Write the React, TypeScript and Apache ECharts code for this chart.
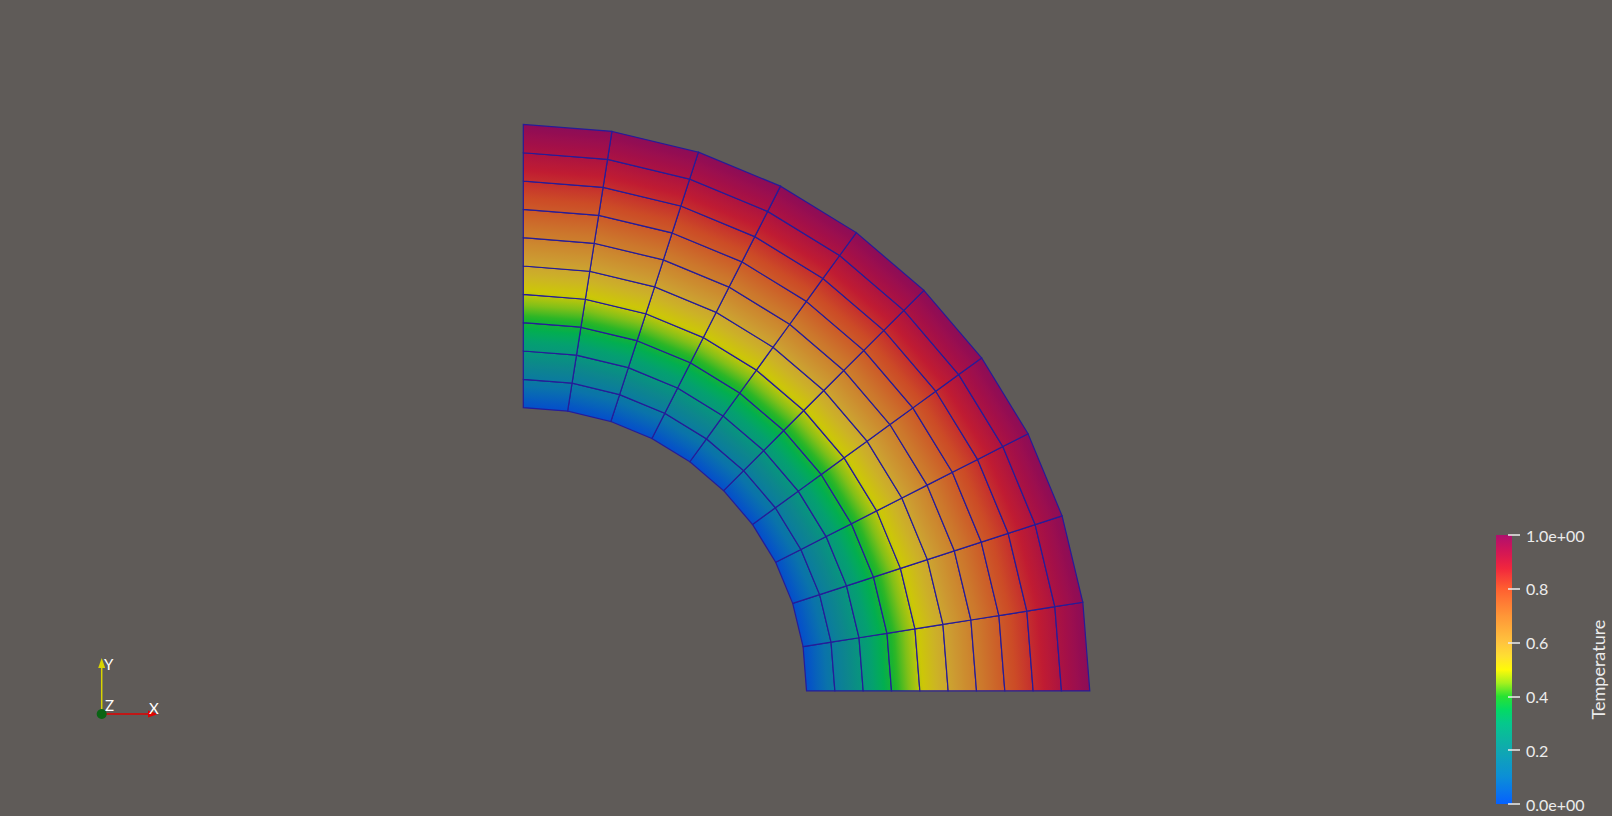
import React, { useEffect, useRef } from "react";
import * as echarts from "echarts";

// Mesh nodes (quarter annulus, 10 x 10 cells)
const NODE_RADII = [1.0, 1.1, 1.2, 1.3, 1.4, 1.5, 1.6, 1.7, 1.8, 1.9, 2.0];
const NODE_ANGLES_DEG = [0, 9, 18, 27, 36, 45, 54, 63, 72, 81, 90];
// Temperature at each radial node
const NODE_TEMPERATURE = [0, 0.14, 0.26, 0.38, 0.49, 0.58, 0.68, 0.77, 0.85, 0.93, 1.0];

// Colour bar
const COLORBAR_TICKS = [0, 0.2, 0.4, 0.6, 0.8, 1.0];
const COLORBAR_TITLE = "Temperature";

// Colour map control points
const CMAP_POSITIONS = [0, 0.1, 0.2, 0.3, 0.35, 0.4, 0.45, 0.5, 0.55, 0.6, 0.7, 0.8, 0.88, 0.95, 1];
const CMAP_COLORS = [
  [5, 97, 255],
  [12, 142, 215],
  [16, 168, 176],
  [5, 200, 140],
  [3, 218, 100],
  [40, 226, 50],
  [165, 240, 30],
  [255, 250, 8],
  [255, 222, 50],
  [255, 196, 62],
  [255, 150, 55],
  [255, 95, 48],
  [240, 35, 62],
  [205, 20, 90],
  [175, 15, 110],
];

const SHADE = 0.8;
const BG = "#5f5b58";
const MESH_LINE = "#261c98";
const TEXT = "#ececec";
const FONT = "Lato, 'Noto Sans', sans-serif";

function cmap(t: number): number[] {
  const v = Math.max(0, Math.min(1, t));
  for (let k = 0; k < CMAP_POSITIONS.length - 1; k++) {
    const a = CMAP_POSITIONS[k];
    const b = CMAP_POSITIONS[k + 1];
    if (v <= b) {
      const f = (v - a) / (b - a);
      const c0 = CMAP_COLORS[k];
      const c1 = CMAP_COLORS[k + 1];
      return [0, 1, 2].map((q) => c0[q] + (c1[q] - c0[q]) * f);
    }
  }
  return CMAP_COLORS[CMAP_COLORS.length - 1];
}

function rgb(c: number[], k = 1): string {
  return `rgb(${Math.round(c[0] * k)},${Math.round(c[1] * k)},${Math.round(c[2] * k)})`;
}

function node(i: number, j: number): number[] {
  const r = NODE_RADII[i];
  const a = (NODE_ANGLES_DEG[j] * Math.PI) / 180;
  return [r * Math.cos(a), r * Math.sin(a)];
}

const CELLS: number[][] = [];
for (let i = 0; i < NODE_RADII.length - 1; i++) {
  for (let j = 0; j < NODE_ANGLES_DEG.length - 1; j++) {
    CELLS.push([i, j]);
  }
}

export default function App() {
  const ref = useRef<HTMLDivElement>(null);

  useEffect(() => {
    if (!ref.current) return;
    const chart = echarts.init(ref.current, null, { renderer: "svg" });

    const barStops = [];
    for (let s = 0; s <= 40; s++) {
      const t = s / 40;
      barStops.push({ offset: t, color: rgb(cmap(t)) });
    }

    const ox = 101.7;
    const oy = 714;

    chart.setOption({
      animation: false,
      backgroundColor: BG,
      grid: [
        { left: 523.3, top: 124.4, width: 566.5, height: 566.5 },
        { left: 1496, top: 535, width: 16, height: 269 },
      ],
      xAxis: [
        { gridIndex: 0, type: "value", min: 0, max: 2, show: false },
        { gridIndex: 1, type: "category", data: ["T"], show: false },
      ],
      yAxis: [
        { gridIndex: 0, type: "value", min: 0, max: 2, show: false },
        {
          gridIndex: 1,
          type: "value",
          min: COLORBAR_TICKS[0],
          max: COLORBAR_TICKS[COLORBAR_TICKS.length - 1],
          interval: 0.2,
          position: "right",
          offset: -4,
          z: 5,
          axisLine: { show: false },
          splitLine: { show: false },
          axisTick: { show: true, length: 12, lineStyle: { color: TEXT, width: 1.5 } },
          axisLabel: {
            margin: 18,
            color: TEXT,
            fontSize: 16,
            fontFamily: FONT,
            showMinLabel: true,
            showMaxLabel: true,
            formatter: (v: number) =>
              v === 0 || v === 1 ? `${v.toFixed(1)}e+00` : v.toFixed(1),
          },
          name: COLORBAR_TITLE,
          nameLocation: "middle",
          nameRotate: 90,
          nameGap: 80,
          nameTextStyle: { color: TEXT, fontSize: 18, fontFamily: FONT },
        },
      ],
      series: [
        {
          type: "custom",
          coordinateSystem: "cartesian2d",
          xAxisIndex: 0,
          yAxisIndex: 0,
          silent: true,
          data: CELLS,
          renderItem: (params: any, api: any) => {
            const i = api.value(0);
            const j = api.value(1);
            const p00 = api.coord(node(i, j));
            const p01 = api.coord(node(i, j + 1));
            const p11 = api.coord(node(i + 1, j + 1));
            const p10 = api.coord(node(i + 1, j));
            const ix = (p00[0] + p01[0]) / 2;
            const iy = (p00[1] + p01[1]) / 2;
            const ex = (p10[0] + p11[0]) / 2;
            const ey = (p10[1] + p11[1]) / 2;
            const t0 = NODE_TEMPERATURE[i];
            const t1 = NODE_TEMPERATURE[i + 1];
            const stops = [];
            for (let s = 0; s <= 8; s++) {
              const f = s / 8;
              stops.push({ offset: f, color: rgb(cmap(t0 + (t1 - t0) * f), SHADE) });
            }
            return {
              type: "polygon",
              shape: { points: [p00, p10, p11, p01] },
              style: {
                fill: new echarts.graphic.LinearGradient(ix, iy, ex, ey, stops, true),
                stroke: MESH_LINE,
                lineWidth: 1.2,
              },
            };
          },
        },
        {
          type: "bar",
          xAxisIndex: 1,
          yAxisIndex: 1,
          data: [1],
          barWidth: "100%",
          silent: true,
          z: 1,
          itemStyle: {
            color: new echarts.graphic.LinearGradient(0, 1, 0, 0, barStops),
          },
        },
      ],
      graphic: [
        {
          type: "line",
          shape: { x1: ox, y1: oy, x2: ox, y2: 667 },
          style: { stroke: "#d8d400", lineWidth: 1.5 },
        },
        {
          type: "polygon",
          shape: { points: [[ox, 658], [ox - 3.5, 668], [ox + 3.5, 668]] },
          style: { fill: "#d8d400" },
        },
        {
          type: "line",
          shape: { x1: ox, y1: oy, x2: 148, y2: oy },
          style: { stroke: "#e00000", lineWidth: 1.5 },
        },
        {
          type: "polygon",
          shape: { points: [[158, oy], [148, oy - 3.5], [148, oy + 3.5]] },
          style: { fill: "#e00000" },
        },
        {
          type: "circle",
          shape: { cx: ox, cy: oy, r: 5 },
          style: { fill: "#0a6414" },
        },
        {
          type: "text",
          x: 104,
          y: 656,
          style: { text: "Y", fill: "#ffffff", font: `15px ${FONT}` },
        },
        {
          type: "text",
          x: 149,
          y: 700,
          style: { text: "X", fill: "#ffffff", font: `15px ${FONT}` },
        },
        {
          type: "text",
          x: 105,
          y: 697,
          style: { text: "Z", fill: "#ffffff", font: `15px ${FONT}` },
        },
      ],
    });

    return () => chart.dispose();
  }, []);

  return (
    <div
      ref={ref}
      style={{ position: "fixed", left: 0, top: 0, width: 1612, height: 816 }}
    />
  );
}
